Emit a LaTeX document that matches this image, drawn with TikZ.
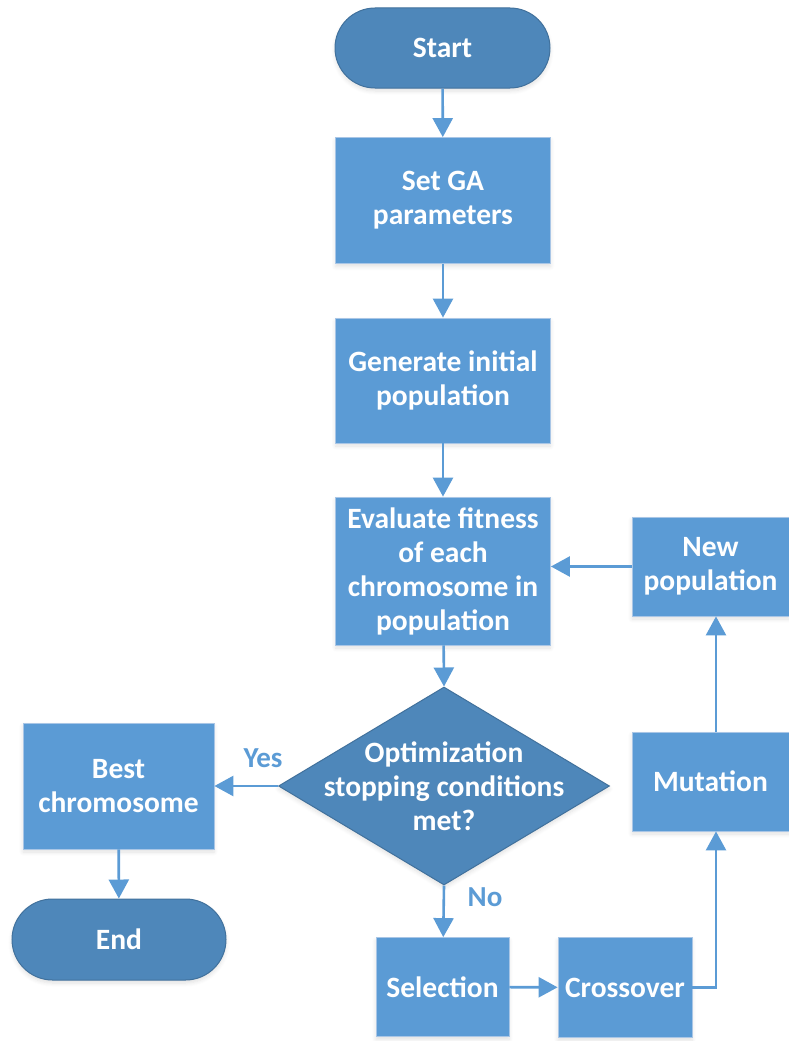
\documentclass[tikz,border=0pt]{standalone}
\usepackage{fontspec}
\setmainfont{Carlito}
\usetikzlibrary{shapes.misc,shapes.geometric,arrows.meta,shadows.blur}

\definecolor{boxfill}{HTML}{5B9BD5}
\definecolor{boxline}{HTML}{A9C6E6}
\definecolor{termfill}{HTML}{4E87BA}
\definecolor{termline}{HTML}{41719C}
\definecolor{flow}{HTML}{5B9BD5}

\tikzset{
  boxtext/.style={font=\fontsize{29.5}{34}\selectfont\bfseries, text=white,
    align=center, inner sep=0pt},
  base/.style={boxtext,
    blur shadow={shadow xshift=0pt, shadow yshift=-3pt, shadow opacity=12, shadow blur steps=6, shadow blur radius=4pt}},
  procbox/.style={base, rectangle, fill=boxfill, draw=boxline, line width=0.8pt},
  termbox/.style={base, rounded rectangle, fill=termfill, draw=termline, line width=1pt},
  decbox/.style={base, diamond, fill=termfill, draw=termline, line width=1pt},
  flowline/.style={draw=flow, line width=2.6pt, -{Triangle[width=20pt,length=19pt]}},
  flowlabel/.style={font=\fontsize{29}{34}\selectfont\bfseries, text=flow, inner sep=0pt}
}

\begin{document}
\begin{tikzpicture}[x=1pt,y=-1pt]
  \useasboundingbox (0,0) rectangle (789,1041);

  % main column
  \node[termbox, minimum width=215pt, minimum height=80pt] (start) at (442.5,48) {Start};
  \node[procbox, minimum width=215pt, minimum height=126pt] (setga) at (443,200.5) {Set GA\\parameters};
  \node[procbox, minimum width=215pt, minimum height=125pt] (gen) at (443,380.5) {Generate initial\\population};
  \node[procbox, minimum width=215pt, minimum height=148pt] (eval) at (443,571) {Evaluate fitness\\of each\\chromosome in\\population};
  \node[decbox, minimum width=331pt, minimum height=198pt] (cond) at (444,786) {};
  \node[boxtext] (condtext) at (cond.center) {Optimization\\stopping conditions\\met?};

  % left branch
  \node[procbox, minimum width=191pt, minimum height=126pt] (best) at (118.5,786) {Best\\chromosome};
  \node[termbox, minimum width=214pt, minimum height=81pt] (end) at (119,939.5) {End};

  % bottom row and loop back
  \node[procbox, minimum width=133pt, minimum height=99pt] (sel) at (442.5,987) {Selection};
  \node[procbox, minimum width=134pt, minimum height=100pt] (cross) at (625,987.5) {Crossover};
  \node[procbox, minimum width=157pt, minimum height=99pt] (mut) at (710.5,781.5) {Mutation};
  \node[procbox, minimum width=157pt, minimum height=99pt] (newp) at (710.5,566.5) {New\\population};

  \coordinate (rx) at (716,0);

  % connectors
  \draw[flowline] (start) -- (setga);
  \draw[flowline] (setga) -- (gen);
  \draw[flowline] (gen) -- (eval);
  \draw[flowline] (eval) -- (cond.north);
  \draw[flowline] (cond.west) -- (best.east);
  \draw[flowline] (best) -- (end);
  \draw[flowline] (cond.south) -- (sel);
  \draw[flowline] (sel) -- (cross);
  \draw[flowline] (cross.east) -| (mut.south -| rx);
  \draw[flowline] (mut.north -| rx) -- (newp.south -| rx);
  \draw[flowline] (newp.west) -- (eval.east |- newp.west);

  % branch labels
  \node[flowlabel] (yes) at (263,758) {Yes};
  \node[flowlabel] (no) at (485,897) {No};
\end{tikzpicture}
\end{document}
